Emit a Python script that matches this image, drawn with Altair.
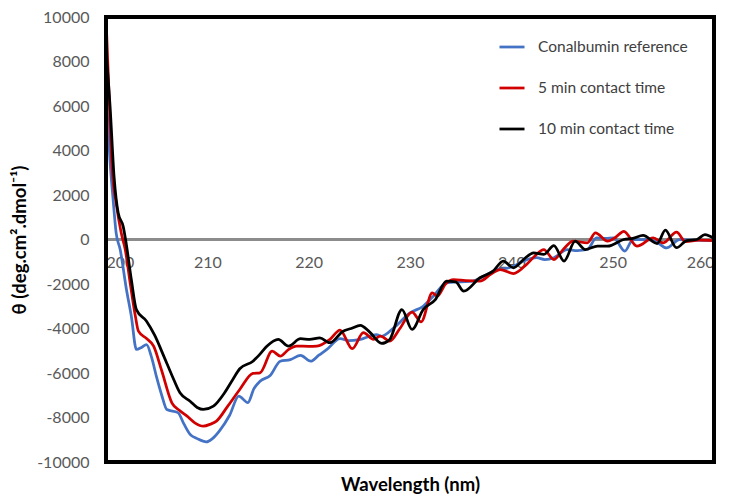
import altair as alt
import pandas as pd

series_names = ["Conalbumin reference", "5 min contact time", "10 min contact time"]
series_colors = ["#4472C4", "#D00000", "#000000"]

wl_ref = [200.0, 200.4, 200.7, 201.0, 201.4, 202.0, 202.5, 203.0, 203.5, 204.0, 204.5, 205.0,
          205.5, 206.0, 207.1, 207.7, 208.3, 209.0, 209.9, 210.5, 211.2, 212.2, 213.1, 214.0,
          214.6, 215.2, 216.2, 217.2, 218.2, 219.2, 220.2, 221.0, 221.8, 223.1, 224.0, 225.0,
          226.7, 227.2, 228.4, 230.0, 231.3, 232.3, 233.6, 235.0, 236.2, 237.5, 238.6, 239.5,
          240.2, 241.3, 242.5, 243.3, 244.2, 245.5, 246.5, 247.5, 248.4, 249.3, 250.1, 251.2,
          252.0, 253.4, 254.3, 255.3, 256.6, 258.0, 260.0]
cd_ref = [6900, 3500, 1800, 300, -450, -2200, -3450, -4940, -4850, -4720, -5300, -6200,
          -7000, -7640, -7780, -8300, -8760, -8950, -9100, -8950, -8600, -7900, -7040, -7330,
          -6700, -6370, -6110, -5470, -5400, -5210, -5470, -5200, -4940, -4460, -4550, -4500,
          -4270, -4350, -3970, -3300, -3000, -2550, -1950, -1900, -1870, -1600, -1350, -1300,
          -1200, -950, -820, -900, -820, -450, -500, -450, 70, 50, 70, -520,
          0, 0, -100, -380, 0, -30, -50]

wl_5 = [200.0, 200.3, 200.6, 201.05, 201.5, 201.9, 202.4, 202.9, 203.2, 204.0, 204.7, 205.5,
        206.5, 207.3, 208.0, 208.8, 209.6, 210.3, 210.9, 212.0, 213.2, 214.5, 215.2, 216.4,
        217.2, 218.0, 218.8, 220.0, 220.8, 222.1, 223.1, 224.3, 225.4, 226.4, 227.1, 228.0,
        229.0, 230.2, 231.1, 232.2, 232.7, 233.5, 234.3, 235.5, 236.9, 238.0, 238.9, 240.2,
        241.5, 242.3, 243.2, 244.2, 245.2, 246.1, 247.5, 248.3, 249.5, 250.3, 251.1, 252.4,
        254.0, 255.0, 256.3, 257.2, 258.5, 260.0]
cd_5 = [10000, 6500, 3300, 1500, 300, -450, -2000, -3450, -4120, -4450, -4790, -5900,
        -7340, -7700, -7940, -8250, -8390, -8300, -8160, -7500, -6740, -6020, -5990, -5020,
        -5240, -4950, -4790, -4800, -4790, -4490, -4070, -4910, -4190, -4490, -4340, -4570,
        -4000, -3260, -3700, -2400, -2550, -2000, -1800, -1850, -1870, -1550, -1350, -1530,
        -1120, -750, -450, -900, -400, -75, -150, 300, -75, 100, 370, -300,
        70, -150, 330, -100, -30, -50]

wl_10 = [200.0, 200.4, 200.8, 201.2, 201.7, 202.0, 202.5, 203.0, 204.0, 204.8, 205.7, 206.5,
         207.3, 208.3, 209.0, 209.6, 210.6, 211.7, 212.5, 213.2, 214.5, 215.2, 215.9, 217.0,
         218.0, 219.2, 220.1, 221.1, 222.1, 223.4, 224.2, 225.1, 226.0, 227.2, 228.0, 229.2,
         230.2, 231.3, 232.5, 233.6, 234.5, 235.3, 236.9, 238.2, 239.2, 240.2, 241.2, 242.2,
         243.2, 244.2, 245.2, 246.3, 247.3, 248.5, 249.5, 251.1, 252.0, 253.0, 254.4, 255.2,
         256.3, 257.3, 258.3, 259.1, 260.0]
cd_10 = [8500, 6000, 2800, 1200, 580, -200, -1800, -3150, -3670, -4300, -5240, -6100,
         -6890, -7270, -7550, -7640, -7490, -6890, -6300, -5810, -5470, -5150, -4790, -4490,
         -4790, -4460, -4490, -4420, -4640, -4120, -4000, -3860, -4150, -4670, -4490, -3150,
         -4040, -3150, -2700, -1870, -1900, -2320, -1720, -1420, -970, -1270, -900, -600,
         -670, -270, -970, -75, -450, -300, -300, 0, 50, 180, -180, 420,
         -370, -50, 0, 220, 40]

y_ticks = list(range(-10000, 10001, 2000))
x_ticks = [200, 210, 220, 230, 240, 250, 260]

frames = []
for name, wl, cd in zip(series_names, [wl_ref, wl_5, wl_10], [cd_ref, cd_5, cd_10]):
    frames.append(pd.DataFrame({"wl": wl, "cd": cd, "series": name}))
df = pd.concat(frames, ignore_index=True)

W, H = 608, 445
FONT = "Lato"

x_scale = alt.Scale(domain=[200, 260], nice=False, zero=False)
y_scale = alt.Scale(domain=[-10000, 10000], nice=False, zero=False)

y_axis = alt.Axis(values=y_ticks, domain=False, ticks=False, grid=False,
                  labelExpr="'' + datum.value",
                  labelPadding=17, labelFontSize=16, labelColor="#595959",
                  labelFont=FONT, title="θ (deg.cm².dmol⁻¹)", titleFont=FONT,
                  titleFontSize=18.5, titleFontWeight="bold", titleColor="#000000",
                  titlePadding=7)

zero_rule = alt.Chart(df).mark_rule(color="#8c8c8c", strokeWidth=1.5).encode(
    y=alt.datum(0, scale=y_scale, axis=y_axis)
)

lines = alt.Chart(df).mark_line(strokeWidth=2.75, interpolate="monotone", clip=True).encode(
    x=alt.X("wl:Q", scale=x_scale,
            axis=alt.Axis(values=x_ticks, orient="bottom", offset=-222, domain=False, ticks=False,
                          grid=False, labelPadding=14, labelFontSize=16, labelColor="#595959",
                          labelExpr="'' + datum.value",
                          labelFont=FONT, title="Wavelength (nm)", titleFont=FONT,
                          titleFontSize=18.5, titleFontWeight="bold", titleColor="#000000",
                          titleY=235, titleBaseline="top")),
    y=alt.Y("cd:Q", scale=y_scale, axis=y_axis),
    color=alt.Color("series:N", scale=alt.Scale(domain=series_names, range=series_colors),
                    legend=alt.Legend(title=None, orient="none", legendX=392, legendY=16,
                                      symbolType="stroke", symbolSize=625, symbolStrokeWidth=2.75,
                                      labelFont=FONT, labelFontSize=15.5, labelColor="#404040",
                                      labelOffset=12, rowPadding=18, padding=0)),
    order=alt.Order("wl:Q"),
    detail="series:N",
)

frame = alt.Chart(df).mark_rect(fill=None, stroke="#000000", strokeWidth=2.5).encode(
    x=alt.value(0), x2=alt.value(W), y=alt.value(0), y2=alt.value(H)
)

chart = alt.layer(zero_rule, lines, frame).properties(
    width=W, height=H,
    autosize=alt.AutoSizeParams(type="none"),
    padding={"left": 106, "top": 17, "right": 17, "bottom": 35},
    background="#ffffff",
).configure_view(stroke=None)

chart.save("out.html", embed_options={"renderer": "svg", "actions": False})
